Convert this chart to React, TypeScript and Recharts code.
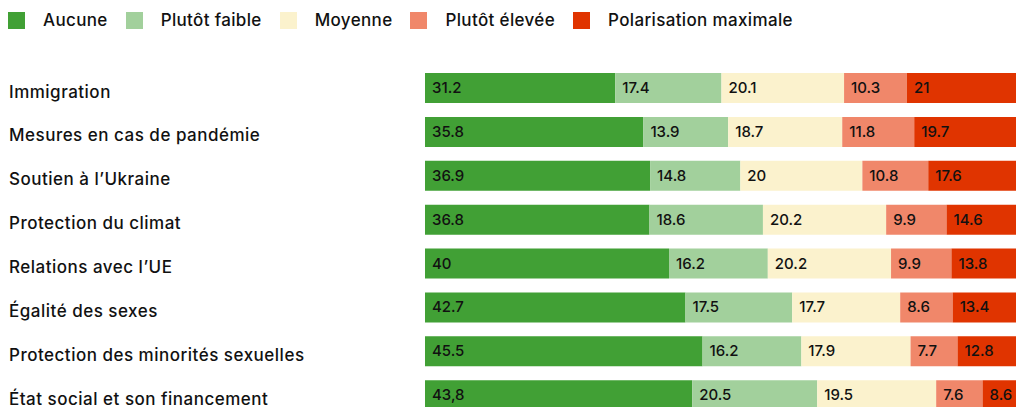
import { BarChart, Bar, XAxis, YAxis, Legend, LabelList } from "recharts";

const categories = [
  "Immigration",
  "Mesures en cas de pandémie",
  "Soutien à l’Ukraine",
  "Protection du climat",
  "Relations avec l’UE",
  "Égalité des sexes",
  "Protection des minorités sexuelles",
  "État social et son financement",
];

const aucune = [31.2, 35.8, 36.9, 36.8, 40, 42.7, 45.5, 43.8];
const plutotFaible = [17.4, 13.9, 14.8, 18.6, 16.2, 17.5, 16.2, 20.5];
const moyenne = [20.1, 18.7, 20, 20.2, 20.2, 17.7, 17.9, 19.5];
const plutotElevee = [10.3, 11.8, 10.8, 9.9, 9.9, 8.6, 7.7, 7.6];
const polarisation = [21, 19.7, 17.6, 14.6, 13.8, 13.4, 12.8, 8.6];

// the source prints the last "Aucune" value with a comma
const aucuneText = ["31.2", "35.8", "36.9", "36.8", "40", "42.7", "45.5", "43,8"];

const seriesNames = ["Aucune", "Plutôt faible", "Moyenne", "Plutôt élevée", "Polarisation maximale"];
const seriesKeys = ["aucune", "faible", "moyenne", "elevee", "max"];
const seriesColors = ["#41a035", "#a2d09c", "#fbf2cd", "#f0876a", "#e03400"];

const data = categories.map((name, i) => ({
  name,
  aucune: aucune[i],
  faible: plutotFaible[i],
  moyenne: moyenne[i],
  elevee: plutotElevee[i],
  max: polarisation[i],
}));

const FONT = "Inter, 'DejaVu Sans', sans-serif";

function CategoryTick(props: any) {
  const { y, payload } = props;
  return (
    <text
      x={1}
      y={y + 5}
      dominantBaseline="middle"
      fontSize={17}
      fontWeight={500}
      letterSpacing={0.5}
      fill="#111"
      fontFamily={FONT}
    >
      {payload.value}
    </text>
  );
}

function valueLabel(texts?: string[]) {
  return (props: any) => {
    const { x, y, height, value, index } = props;
    const txt = texts ? texts[index] : String(value);
    return (
      <text
        x={x + 7}
        y={y + height / 2 + 1}
        dominantBaseline="middle"
        fontSize={15}
        fontWeight={500}
        fill="#111"
        fontFamily={FONT}
      >
        {txt}
      </text>
    );
  };
}

function LegendBox() {
  return (
    <div
      style={{
        height: 40,
        display: "flex",
        alignItems: "flex-start",
        fontFamily: FONT,
        fontSize: 17,
        fontWeight: 500,
        letterSpacing: 0.35,
        color: "#111",
      }}
    >
      {seriesNames.map((n, i) => (
        <div key={n} style={{ display: "flex", alignItems: "center", marginTop: 4, marginRight: 18 }}>
          <span style={{ width: 17, height: 17, background: seriesColors[i], display: "inline-block", marginRight: 18 }} />
          <span style={{ lineHeight: "17px" }}>{n}</span>
        </div>
      ))}
    </div>
  );
}

export default function App() {
  return (
    <BarChart
      width={1027}
      height={409}
      data={data}
      layout="vertical"
      margin={{ top: 18, right: 0, left: 0, bottom: 0 }}
      barSize={30}
    >
      <Legend
        verticalAlign="top"
        align="left"
        content={() => <LegendBox />}
        wrapperStyle={{ top: 0, left: 0, height: 40 }}
      />
      <XAxis type="number" hide domain={[0, 100]} allowDataOverflow />
      <YAxis
        type="category"
        dataKey="name"
        width={417}
        axisLine={false}
        tickLine={false}
        tick={<CategoryTick />}
      />
      {seriesKeys.map((k, i) => (
        <Bar key={k} dataKey={k} name={seriesNames[i]} stackId="a" fill={seriesColors[i]} isAnimationActive={false}>
          <LabelList dataKey={k} content={valueLabel(i === 0 ? aucuneText : undefined)} />
        </Bar>
      ))}
    </BarChart>
  );
}
